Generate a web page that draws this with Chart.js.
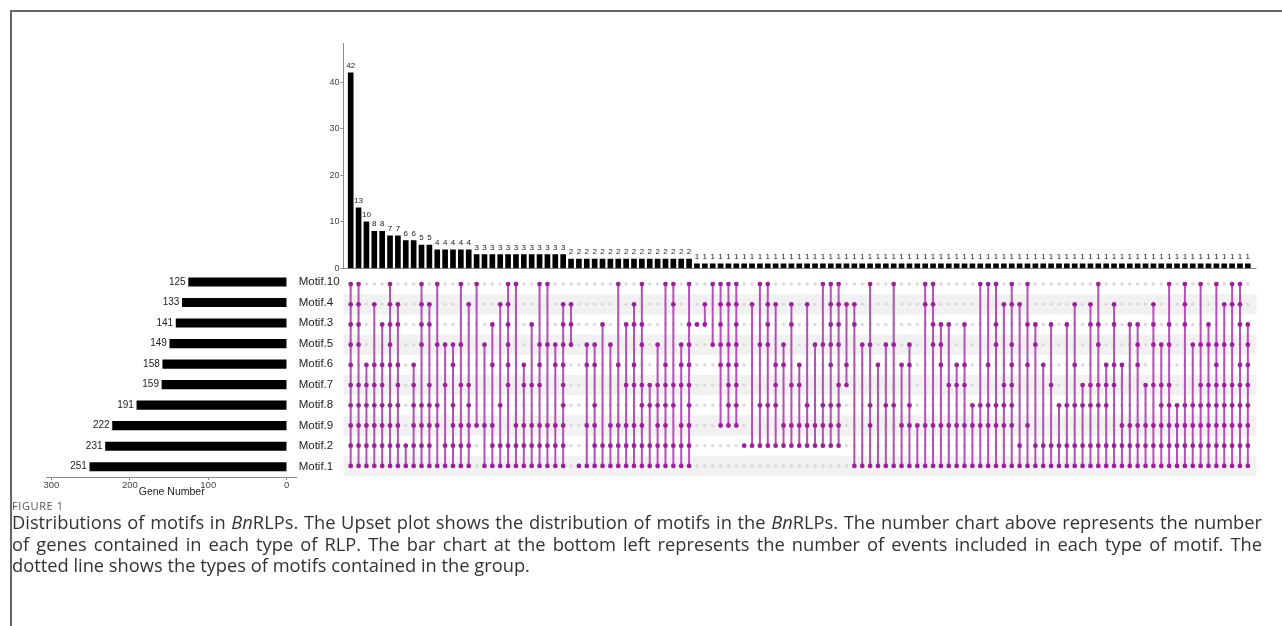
<!DOCTYPE html>
<html>
<head>
<meta charset="utf-8">
<script src="https://cdn.jsdelivr.net/npm/chart.js@4.4.0/dist/chart.umd.min.js"></script>
<style>
  body { margin: 0; background: #fff; width: 1282px; height: 626px; overflow: hidden; position: relative; }
  #frame { position: absolute; left: 10px; top: 10px; width: 1300px; height: 640px; border-top: 2px solid #666; border-left: 2px solid #666; }
  canvas { position: absolute; }
  #topChart { left: 300px; top: 30px; }
  #matrixChart { left: 300px; top: 270px; }
  #setChart { left: 0px; top: 260px; }
  #figLabel { position: absolute; left: 12px; top: 498px; font: 11px 'Open Sans', sans-serif; letter-spacing: 0.6px; color: #555; }
  #caption { position: absolute; left: 12px; top: 511px; width: 1250px; font: 18.3px/21.5px 'Open Sans', sans-serif; color: #333; }
  #caption .full { white-space: nowrap; text-align: justify; text-align-last: justify; }
  #caption .last { white-space: nowrap; }
</style>
</head>
<body>
<div id="frame"></div>
<canvas id="topChart" width="970" height="250"></canvas>
<canvas id="matrixChart" width="970" height="210"></canvas>
<canvas id="setChart" width="345" height="241"></canvas>
<div id="figLabel">FIGURE 1</div>
<div id="caption">
  <div class="full">Distributions of motifs in <i>Bn</i>RLPs. The Upset plot shows the distribution of motifs in the <i>Bn</i>RLPs. The number chart above represents the number</div>
  <div class="full">of genes contained in each type of RLP. The bar chart at the bottom left represents the number of events included in each type of motif. The</div>
  <div class="last">dotted line shows the types of motifs contained in the group.</div>
</div>

<script>
// Sets (matrix rows, top to bottom) and their sizes
const setLabels = ['Motif.10', 'Motif.4', 'Motif.3', 'Motif.5', 'Motif.6', 'Motif.7', 'Motif.8', 'Motif.9', 'Motif.2', 'Motif.1'];
const setSizes = [125, 133, 141, 149, 158, 159, 191, 222, 231, 251];
const setTicks = [0, 100, 200, 300];

// Intersection sizes (top bars), left to right
const intersectionCounts = [
    42, 13, 10, 8, 8, 7, 7, 6, 6, 5, 5, 4, 4, 4, 4, 4,
    3, 3, 3, 3, 3, 3, 3, 3, 3, 3, 3, 3,
    2, 2, 2, 2, 2, 2, 2, 2, 2, 2, 2, 2, 2, 2, 2, 2,
    1, 1, 1, 1, 1, 1, 1, 1, 1, 1, 1, 1, 1, 1, 1, 1, 1, 1, 1, 1,
    1, 1, 1, 1, 1, 1, 1, 1, 1, 1, 1, 1, 1, 1, 1, 1, 1, 1, 1, 1,
    1, 1, 1, 1, 1, 1, 1, 1, 1, 1, 1, 1, 1, 1, 1, 1, 1, 1, 1, 1,
    1, 1, 1, 1, 1, 1, 1, 1, 1, 1, 1
];
const countTicks = [0, 10, 20, 30, 40];

// Members of each intersection, as row indices into setLabels
const intersectionRows = [
    [0,1,2,3,4,5,6,7,8,9], [0,1,2,3,5,6,7,8,9], [4,5,6,7,8,9], [1,4,5,6,7,8,9],
    [2,4,5,6,7,8,9], [0,1,2,3,4,6,7,8,9], [1,2,4,5,6,7,8,9], [8,9],
    [4,5,6,7,8,9], [0,1,2,3,6,7,8,9], [1,2,5,6,7,8,9], [0,3,6,7,9],
    [3,5,8,9], [3,4,6,7,8,9], [0,3,5,7,8,9], [1,5,6,7,8,9],
    [0,7], [3,7,9], [2,4,7,8,9], [1,6,8,9], [0,1,2,3,4,5,8,9], [0,7,8,9],
    [4,5,7,8,9], [2,5,7,8,9], [0,3,4,5,7,8,9], [0,3,7,8,9], [3,4,7,8,9], [1,2,3,4,5,6,7,8,9],
    [1,2,3], [9], [3,4,7,9], [3,4,6,7,8,9], [2,8,9], [3,7,8,9], [0,4,7,8,9], [2,5,7,8,9],
    [1,2,4,5,7,8,9], [0,2,3,5,6,7,8,9], [5,6,8,9], [3,5,6,7,8,9], [0,4,5,6,7,8,9], [0,1,5,6,8,9],
    [3,4,5,7,8,9], [0,2,3,4,5,6,7,8,9],
    [2], [1,2], [0,3], [0,1,2,3,4,7], [0,1,3,4,5,6,7], [0,1,2,3,4,5,6,7], [8], [1,8],
    [0,3,6,8], [0,1,2,3,6,8], [1,4,5,6,8], [3,4,7,8], [1,2,5,7,8], [4,5,7,8], [1,6,7,8], [3,7,8],
    [0,3,6,7,8], [0,1,2,3,4,6,7,8], [0,1,2,3,5,6,7,8], [1,4,5], [1,2,9], [3,9], [0,3,6,7,9], [4,9],
    [3,6,9], [0,3,6,9], [4,7,9], [3,4,6,7,9], [7,9], [0,1,7,9], [0,1,2,3,7,9], [2,3,4,7,9],
    [2,5,7,9], [4,5,7,9], [2,4,5,7,9], [6,7,9], [0,6,7,9], [0,4,6,7,9], [0,2,3,6,7,9], [1,5,6,7,9],
    [0,1,3,4,5,6,7,9], [1,8,9], [0,2,4,7,9], [2,3,8,9], [4,8,9], [2,5,8,9], [6,8,9], [2,6,8,9],
    [1,4,6,8,9], [5,6,8,9], [1,2,5,6,8,9], [0,2,3,5,6,8,9], [4,5,6,8,9], [1,2,4,5,8,9], [4,7,8,9], [2,7,8,9],
    [2,3,4,7,8,9], [5,7,8,9], [1,2,3,5,7,8,9], [3,5,6,7,8,9], [0,2,3,5,6,7,8,9], [6,7,8,9], [0,1,2,6,7,8,9], [3,6,7,8,9],
    [0,3,5,6,7,8,9], [2,3,5,6,7,8,9], [0,3,4,5,6,7,8,9], [1,3,5,6,7,8,9], [0,1,3,5,6,7,8,9], [0,1,2,4,5,6,7,8,9], [2,3,4,5,6,7,8,9]
];

Chart.defaults.font.family = "'Liberation Sans', Arial, sans-serif";
Chart.defaults.animation = false;

const dotColor = '#9e1f9e';
const lineColor = '#b550b5';
const emptyColor = '#dcdcdc';
const axisColor = '#8a8a8a';
const xRange = { min: -0.9, max: 115.1 };

// value labels above the intersection bars
const barLabels = {
    id: 'barLabels',
    afterDatasetsDraw(chart) {
        const ctx = chart.ctx;
        ctx.save();
        ctx.font = "8px 'Liberation Sans', Arial, sans-serif";
        ctx.fillStyle = '#222';
        ctx.textAlign = 'center';
        ctx.textBaseline = 'bottom';
        chart.getDatasetMeta(0).data.forEach((bar, i) => {
            ctx.fillText(intersectionCounts[i], bar.x, bar.y - 3);
        });
        ctx.restore();
    }
};

// value labels at the end of the set size bars
const setLabelsPlugin = {
    id: 'setValueLabels',
    afterDatasetsDraw(chart) {
        const ctx = chart.ctx;
        ctx.save();
        ctx.font = "10px 'Liberation Sans', Arial, sans-serif";
        ctx.fillStyle = '#222';
        ctx.textAlign = 'right';
        ctx.textBaseline = 'middle';
        chart.getDatasetMeta(0).data.forEach((bar, i) => {
            ctx.fillText(setSizes[i], bar.x - 3, bar.y);
        });
        ctx.restore();
    }
};

// alternating row bands behind the matrix
const rowBands = {
    id: 'rowBands',
    beforeDatasetsDraw(chart) {
        const { ctx, chartArea, scales } = chart;
        ctx.save();
        ctx.fillStyle = '#f1f1f1';
        setLabels.forEach((s, r) => {
            if (r % 2 === 0) return;
            const y0 = scales.y.getPixelForValue(r - 0.5);
            const y1 = scales.y.getPixelForValue(r + 0.5);
            ctx.fillRect(chartArea.left, Math.min(y0, y1), chartArea.right - chartArea.left, Math.abs(y1 - y0));
        });
        ctx.restore();
    }
};

// Top: intersection size bars
new Chart(document.getElementById('topChart'), {
    type: 'bar',
    data: {
        datasets: [{
            data: intersectionCounts.map((v, i) => ({ x: i, y: v })),
            backgroundColor: '#000',
            barThickness: 5
        }]
    },
    options: {
        responsive: false,
        events: [],
        layout: { padding: { left: 0, right: 13.5, top: 13, bottom: 11.5 } },
        plugins: { legend: { display: false }, tooltip: { enabled: false } },
        scales: {
            x: { type: 'linear', min: xRange.min, max: xRange.max, offset: false, display: false },
            y: {
                min: 0, max: 48.4,
                afterFit: s => { s.width = 43.6; },
                afterBuildTicks: s => { s.ticks = countTicks.map(v => ({ value: v })); },
                border: { color: axisColor },
                grid: {
                    color: c => (c.tick && c.tick.value === 0 ? axisColor : 'rgba(0,0,0,0)'),
                    tickColor: axisColor,
                    tickLength: 3
                },
                ticks: { padding: 1, color: '#444', font: { size: 9 } }
            }
        }
    },
    plugins: [barLabels]
});

// Middle: membership matrix
const lineSets = [];
const filled = [];
const empty = [];
intersectionRows.forEach((rows, i) => {
    setLabels.forEach((s, r) => {
        if (rows.includes(r)) filled.push({ x: i, y: r });
        else empty.push({ x: i, y: r });
    });
    if (rows.length > 1) {
        lineSets.push({
            data: [{ x: i, y: Math.min(...rows) }, { x: i, y: Math.max(...rows) }],
            showLine: true,
            borderColor: lineColor,
            borderWidth: 2,
            pointRadius: 0,
            order: 2
        });
    }
});

new Chart(document.getElementById('matrixChart'), {
    type: 'scatter',
    data: {
        datasets: [
            { data: filled, backgroundColor: dotColor, borderWidth: 0, pointRadius: 2.4, order: 1 },
            ...lineSets,
            { data: empty, backgroundColor: emptyColor, borderWidth: 0, pointRadius: 1.8, order: 3 }
        ]
    },
    options: {
        responsive: false,
        events: [],
        layout: { padding: { left: 43.6, right: 13.5, top: 1.7, bottom: 3 } },
        plugins: { legend: { display: false }, tooltip: { enabled: false } },
        scales: {
            x: { type: 'linear', min: xRange.min, max: xRange.max, display: false },
            y: { type: 'linear', min: -0.5, max: 9.5, reverse: true, display: false }
        }
    },
    plugins: [rowBands]
});

// Left: set size bars
new Chart(document.getElementById('setChart'), {
    type: 'bar',
    data: {
        labels: setLabels,
        datasets: [{ data: setSizes, backgroundColor: '#000', barThickness: 8.5 }]
    },
    options: {
        indexAxis: 'y',
        responsive: false,
        events: [],
        layout: { padding: { left: 46.7, right: 0.3, top: 11.7, bottom: 0 } },
        plugins: { legend: { display: false }, tooltip: { enabled: false } },
        scales: {
            x: {
                type: 'linear', reverse: true, min: -12.8, max: 306,
                afterFit: s => { s.height = 24; },
                afterBuildTicks: s => { s.ticks = setTicks.map(v => ({ value: v })); },
                border: { color: axisColor },
                grid: { drawOnChartArea: false, tickColor: axisColor, tickLength: 3 },
                ticks: { padding: 0, color: '#444', font: { size: 9.5 }, maxRotation: 0 },
                title: { display: true, text: 'Gene Number', color: '#222', font: { size: 10.5 }, padding: { top: 0, bottom: 3 } }
            },
            y: {
                position: 'right',
                afterFit: s => { s.width = 48; },
                grid: { display: false, drawTicks: false },
                border: { display: false },
                ticks: { padding: 2, color: '#222', font: { size: 11.5 } }
            }
        }
    },
    plugins: [setLabelsPlugin]
});
</script>
</body>
</html>
